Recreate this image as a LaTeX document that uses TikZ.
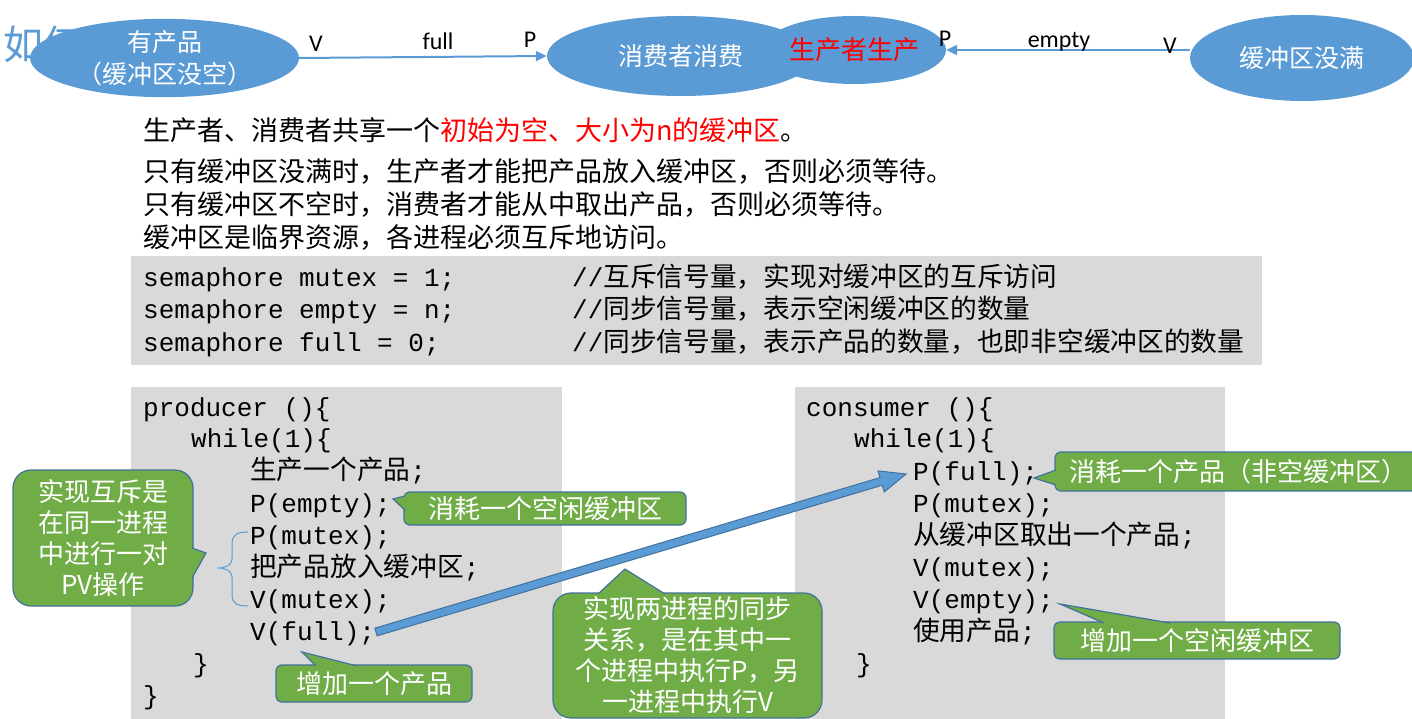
\documentclass[tikz,border=0pt]{standalone}
\usepackage{fontspec}
\setmainfont{Carlito}
\newfontfamily\cjk{Noto Sans CJK SC}
\newfontfamily\mono{Liberation Mono}
\usetikzlibrary{calc,shapes.geometric,arrows.meta}
\definecolor{ellblue}{HTML}{5B9BD5}
\definecolor{edgeblue}{HTML}{41719C}
\definecolor{calgreen}{HTML}{70AD47}
\definecolor{codegrey}{HTML}{D9D9D9}
\definecolor{hired}{HTML}{FF0000}
% Chinese text inside monospaced code lines
\newcommand\zh[1]{{\cjk\fontsize{26.7}{32}\selectfont #1}}

\begin{document}
\begin{tikzpicture}[x=1pt,y=-1pt,
  every node/.style={inner sep=0pt},
  state/.style={ellipse, fill=ellblue, text=white, align=center,
    font=\cjk\fontsize{25}{32}\selectfont},
  flow/.style={draw=ellblue, line width=2pt, -{Triangle[length=11pt,width=10pt]}},
  flowlabel/.style={font=\fontsize{24}{28}\selectfont, text=black},
  prose/.style={anchor=west, font=\cjk\fontsize{27}{32}\selectfont, text=black},
  codeline/.style={anchor=west, font=\mono\fontsize{26}{32}\selectfont, text=black,
    text height=20pt, text depth=6pt},
  panel/.style={fill=codegrey, anchor=north west},
  note/.style={fill=calgreen, draw=edgeblue, line width=1.2pt, text=white, align=center,
    font=\cjk\fontsize{26}{31}\selectfont},
  pointer/.style={fill=calgreen, draw=edgeblue, line width=1.2pt, line join=miter},
  block arrow/.style={fill=ellblue, draw=edgeblue, line width=1pt},
]
\useasboundingbox (0,0) rectangle (1412,719);

% ---- heading and state diagram ----
\node[anchor=west, font=\cjk\fontsize{40}{44}\selectfont, text=ellblue] (title) at (3,44) {如何};

\node[state, minimum width=269pt, minimum height=76pt] (hasprod) at (164.5,58) {有产品\\（缓冲区没空）};
\node[state, minimum width=268pt, minimum height=80pt] (consume) at (681,56) {消费者消费};
\node[state, minimum width=166pt, minimum height=68pt, text=hired,
      font=\cjk\fontsize{26}{32}\selectfont] (produce0) at (854,50) {生产者生产};
\node[state, minimum width=224pt, minimum height=86pt] (notfull) at (1302,58) {缓冲区没满};

\draw[flow] (hasprod.east) -- (consume.west);
\draw[flow] (notfull.west |- produce0.east) -- (produce0.east);

\node[flowlabel] (v1) at (316,44) {V};
\node[flowlabel] (full1) at (438,41) {full};
\node[flowlabel] (p1) at (530,40) {P};
\node[flowlabel] (p2) at (945,39) {P};
\node[flowlabel] (empty2) at (1059,42) {empty};
\node[flowlabel] (v2) at (1170,46) {V};

% ---- problem statement ----
\node[prose] (share) at (143,130) {生产者、消费者共享一个\textcolor{hired}{初始为空、大小为n的缓冲区}。};
\node[prose] (rule1) at (143,172) {只有缓冲区没满时，生产者才能把产品放入缓冲区，否则必须等待。};
\node[prose] (rule2) at (143,205) {只有缓冲区不空时，消费者才能从中取出产品，否则必须等待。};
\node[prose] (rule3) at (143,237) {缓冲区是临界资源，各进程必须互斥地访问。};

% ---- semaphore declarations ----
\node[panel, minimum width=1131pt, minimum height=109pt] (decl) at (131,256) {};
\node[codeline] (semmutex) at (143,279) {semaphore mutex = 1;};
\node[codeline] (semempty) at (143,311) {semaphore empty = n;};
\node[codeline] (semfull) at (143,344) {semaphore full = 0;};
\node[codeline] (cmutex) at (572,279) {//\zh{互斥信号量，实现对缓冲区的互斥访问}};
\node[codeline] (cempty) at (572,311) {//\zh{同步信号量，表示空闲缓冲区的数量}};
\node[codeline] (cfull) at (572,344) {//\zh{同步信号量，表示产品的数量，也即非空缓冲区的数量}};

% ---- producer ----
\node[panel, minimum width=431pt, minimum height=340pt] (prodpanel) at (131,387) {};
\node[codeline] (prodhead) at (143,409) {producer ()\{};
\node[codeline] (prodloop) at (191,440) {while(1)\{};
\node[codeline] (produce) at (250,472) {\zh{生产一个产品};};
\node[codeline] (pempty) at (250,505) {P(empty);};
\node[codeline] (pmutex1) at (250,537) {P(mutex);};
\node[codeline] (put) at (250,569) {\zh{把产品放入缓冲区};};
\node[codeline] (vmutex1) at (250,601) {V(mutex);};
\node[codeline] (vfull) at (250,633) {V(full);};
\node[codeline] (prodloopend) at (193,665) {\}};
\node[codeline] (prodend) at (143,697) {\}};

% ---- consumer ----
\node[panel, minimum width=430pt, minimum height=340pt] (conspanel) at (795,387) {};
\node[codeline] (conshead) at (806,409) {consumer ()\{};
\node[codeline] (consloop) at (854,440) {while(1)\{};
\node[codeline] (pfull) at (913,473) {P(full);};
\node[codeline] (pmutex2) at (913,505) {P(mutex);};
\node[codeline] (take) at (913,537) {\zh{从缓冲区取出一个产品};};
\node[codeline] (vmutex2) at (913,569) {V(mutex);};
\node[codeline] (vempty) at (913,601) {V(empty);};
\node[codeline] (use) at (913,633) {\zh{使用产品};};
\node[codeline] (consloopend) at (856,665) {\}};

% brace grouping the critical section
\draw[ellblue, line width=1pt]
  (248,532) .. controls (238,532) and (232,534) .. (232,544) -- (232,559)
  .. controls (232,565) and (226,568) .. (218,568)
  .. controls (226,568) and (232,571) .. (232,577) -- (232,595)
  .. controls (232,604) and (238,606) .. (248,606);

% synchronisation arrow V(full) -> P(full)
\coordinate (fromV) at (376,632);
\coordinate (toP) at (906,474);
\coordinate (headbase) at ($(toP)!26pt!(fromV)$);
\draw[block arrow]
  ($(fromV)!4pt!90:(toP)$) -- ($(headbase)!4pt!90:(toP)$) -- ($(headbase)!11pt!90:(toP)$)
  -- (toP) -- ($(headbase)!11pt!-90:(toP)$) -- ($(headbase)!4pt!-90:(toP)$)
  -- ($(fromV)!4pt!-90:(toP)$) -- cycle;

% ---- callouts ----
\node[note, rounded corners=18pt, minimum width=180pt, minimum height=136pt] (mutexnote) at (103,538)
  {实现互斥是\\在同一进程\\中进行一对\\PV操作};
\draw[pointer] (192,548) -- (206,553) -- (192,578);

\node[note, rounded corners=6pt, minimum width=282pt, minimum height=33pt] (emptynote) at (545,508.5)
  {消耗一个空闲缓冲区};
\draw[pointer] (405,496) -- (393,499) -- (405,510);

\node[note, rounded corners=6pt, minimum width=196pt, minimum height=37pt] (fullnote) at (374,683.5)
  {增加一个产品};
\draw[pointer] (316,666) -- (302,652) -- (357,666);

\node[note, rounded corners=18pt, minimum width=269pt, minimum height=125pt] (syncnote) at (687.5,655.5)
  {实现两进程的同步\\关系，是在其中一\\个进程中执行P，另\\一进程中执行V};
\draw[pointer] (598,594) -- (625,569) -- (665,594);

\node[note, rounded corners=6pt, minimum width=367pt, minimum height=39pt] (takenote) at (1238.5,471.5)
  {消耗一个产品（非空缓冲区）};
\draw[pointer] (1056,470) -- (1034,478) -- (1056,485);

\node[note, rounded corners=6pt, minimum width=286pt, minimum height=37pt] (freenote) at (1197,640.5)
  {增加一个空闲缓冲区};
\draw[pointer] (1104,623) -- (1060,604) -- (1170,623);

\end{tikzpicture}
\end{document}
